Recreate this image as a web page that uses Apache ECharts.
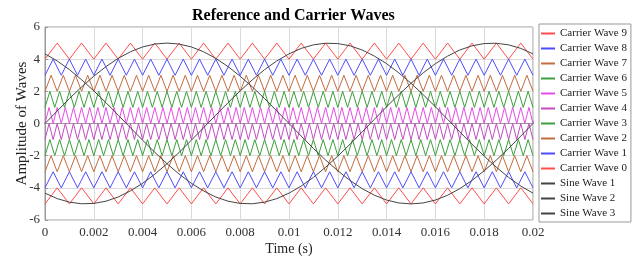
<!DOCTYPE html>
<html>
<head>
<meta charset="utf-8">
<script src="https://cdn.jsdelivr.net/npm/echarts@6/dist/echarts.min.js"></script>
<style>
  html, body { margin: 0; background: #fff; }
  #main { width: 637px; height: 264px; }
</style>
</head>
<body>
<div id="main"></div>
<script>
// time span of the plot (s); every series below is sampled at equal steps over it
const tStart = 0;
const tEnd = 0.02;
const xTicks = [0, 0.002, 0.004, 0.006, 0.008, 0.01, 0.012, 0.014, 0.016, 0.018, 0.02];
const yTicks = [-6, -4, -2, 0, 2, 4, 6];

// carrier waves: vertex values (trough / peak), equally spaced from 0 to 0.02 s
const carrier9 = [
  4,5,4,5,4,5,4,5,4,5, 4,5,4,5,4,5,4,5,4,5,
  4,5,4,5,4,5,4,5,4,5, 4,5,4,5,4,5,4,5,4,5,
  4
];
const carrier8 = [
  3,4,3,4,3,4,3,4,3,4, 3,4,3,4,3,4,3,4,3,4,
  3,4,3,4,3,4,3,4,3,4, 3,4,3,4,3,4,3,4,3,4,
  3,4,3,4,3,4,3,4,3,4, 3,4,3,4,3,4,3,4,3,4,
  3
];
const carrier7 = [
  2,3,2,3,2,3,2,3,2,3, 2,3,2,3,2,3,2,3,2,3,
  2,3,2,3,2,3,2,3,2,3, 2,3,2,3,2,3,2,3,2,3,
  2,3,2,3,2,3,2,3,2,3, 2,3,2,3,2,3,2,3,2,3,
  2,3,2,3,2,3,2,3,2,3, 2,3,2,3,2,3,2,3,2,3,
  2
];
const carrier6 = [
  1,2,1,2,1,2,1,2,1,2, 1,2,1,2,1,2,1,2,1,2,
  1,2,1,2,1,2,1,2,1,2, 1,2,1,2,1,2,1,2,1,2,
  1,2,1,2,1,2,1,2,1,2, 1,2,1,2,1,2,1,2,1,2,
  1,2,1,2,1,2,1,2,1,2, 1,2,1,2,1,2,1,2,1,2,
  1,2,1,2,1,2,1,2,1,2, 1,2,1,2,1,2,1,2,1,2,
  1
];
const carrier5 = [
  0,1,0,1,0,1,0,1,0,1, 0,1,0,1,0,1,0,1,0,1,
  0,1,0,1,0,1,0,1,0,1, 0,1,0,1,0,1,0,1,0,1,
  0,1,0,1,0,1,0,1,0,1, 0,1,0,1,0,1,0,1,0,1,
  0,1,0,1,0,1,0,1,0,1, 0,1,0,1,0,1,0,1,0,1,
  0,1,0,1,0,1,0,1,0,1, 0,1,0,1,0,1,0,1,0,1,
  0,1,0,1,0,1,0,1,0,1, 0,1,0,1,0,1,0,1,0,1,
  0
];
const carrier4 = [
  -1,0,-1,0,-1,0,-1,0,-1,0, -1,0,-1,0,-1,0,-1,0,-1,0,
  -1,0,-1,0,-1,0,-1,0,-1,0, -1,0,-1,0,-1,0,-1,0,-1,0,
  -1,0,-1,0,-1,0,-1,0,-1,0, -1,0,-1,0,-1,0,-1,0,-1,0,
  -1,0,-1,0,-1,0,-1,0,-1,0, -1,0,-1,0,-1,0,-1,0,-1,0,
  -1,0,-1,0,-1,0,-1,0,-1,0, -1,0,-1,0,-1,0,-1,0,-1,0,
  -1,0,-1,0,-1,0,-1,0,-1,0, -1,0,-1,0,-1,0,-1,0,-1,0,
  -1
];
const carrier3 = [
  -2,-1,-2,-1,-2,-1,-2,-1,-2,-1, -2,-1,-2,-1,-2,-1,-2,-1,-2,-1,
  -2,-1,-2,-1,-2,-1,-2,-1,-2,-1, -2,-1,-2,-1,-2,-1,-2,-1,-2,-1,
  -2,-1,-2,-1,-2,-1,-2,-1,-2,-1, -2,-1,-2,-1,-2,-1,-2,-1,-2,-1,
  -2,-1,-2,-1,-2,-1,-2,-1,-2,-1, -2,-1,-2,-1,-2,-1,-2,-1,-2,-1,
  -2,-1,-2,-1,-2,-1,-2,-1,-2,-1, -2,-1,-2,-1,-2,-1,-2,-1,-2,-1,
  -2
];
const carrier2 = [
  -3,-2,-3,-2,-3,-2,-3,-2,-3,-2, -3,-2,-3,-2,-3,-2,-3,-2,-3,-2,
  -3,-2,-3,-2,-3,-2,-3,-2,-3,-2, -3,-2,-3,-2,-3,-2,-3,-2,-3,-2,
  -3,-2,-3,-2,-3,-2,-3,-2,-3,-2, -3,-2,-3,-2,-3,-2,-3,-2,-3,-2,
  -3,-2,-3,-2,-3,-2,-3,-2,-3,-2, -3,-2,-3,-2,-3,-2,-3,-2,-3,-2,
  -3
];
const carrier1 = [
  -4,-3,-4,-3,-4,-3,-4,-3,-4,-3, -4,-3,-4,-3,-4,-3,-4,-3,-4,-3,
  -4,-3,-4,-3,-4,-3,-4,-3,-4,-3, -4,-3,-4,-3,-4,-3,-4,-3,-4,-3,
  -4,-3,-4,-3,-4,-3,-4,-3,-4,-3, -4,-3,-4,-3,-4,-3,-4,-3,-4,-3,
  -4
];
const carrier0 = [
  -5,-4,-5,-4,-5,-4,-5,-4,-5,-4, -5,-4,-5,-4,-5,-4,-5,-4,-5,-4,
  -5,-4,-5,-4,-5,-4,-5,-4,-5,-4, -5,-4,-5,-4,-5,-4,-5,-4,-5,-4,
  -5
];

// reference sine waves, one value every 0.0005 s
const sine1 = [
  0, 0.78, 1.55, 2.27, 2.94, 3.54, 4.05, 4.46, 4.76, 4.94,
  5, 4.94, 4.76, 4.46, 4.05, 3.54, 2.94, 2.27, 1.55, 0.78,
  0, -0.78, -1.55, -2.27, -2.94, -3.54, -4.05, -4.46, -4.76, -4.94,
  -5, -4.94, -4.76, -4.46, -4.05, -3.54, -2.94, -2.27, -1.55, -0.78,
  0
];
const sine2 = [
  -4.33, -4.67, -4.89, -4.99, -4.97, -4.83, -4.57, -4.19, -3.72, -3.15,
  -2.5, -1.79, -1.04, -0.26, 0.52, 1.29, 2.03, 2.72, 3.35, 3.89,
  4.33, 4.67, 4.89, 4.99, 4.97, 4.83, 4.57, 4.19, 3.72, 3.15,
  2.5, 1.79, 1.04, 0.26, -0.52, -1.29, -2.03, -2.72, -3.35, -3.89,
  -4.33
];
const sine3 = [
  4.33, 3.89, 3.35, 2.72, 2.03, 1.29, 0.52, -0.26, -1.04, -1.79,
  -2.5, -3.15, -3.72, -4.19, -4.57, -4.83, -4.97, -4.99, -4.89, -4.67,
  -4.33, -3.89, -3.35, -2.72, -2.03, -1.29, -0.52, 0.26, 1.04, 1.79,
  2.5, 3.15, 3.72, 4.19, 4.57, 4.83, 4.97, 4.99, 4.89, 4.67,
  4.33
];

const seriesNames = [
  "Carrier Wave 9", "Carrier Wave 8", "Carrier Wave 7", "Carrier Wave 6",
  "Carrier Wave 5", "Carrier Wave 4", "Carrier Wave 3", "Carrier Wave 2",
  "Carrier Wave 1", "Carrier Wave 0", "Sine Wave 1", "Sine Wave 2", "Sine Wave 3"
];
const seriesValues = [
  carrier9, carrier8, carrier7, carrier6, carrier5,
  carrier4, carrier3, carrier2, carrier1, carrier0,
  sine1, sine2, sine3
];
const seriesColors = [
  "#ff4d4d", "#4d4dff", "#c26c40", "#3c9f3c", "#e64de6",
  "#c24dc2", "#3c9f3c", "#c26c40", "#4d4dff", "#ff4d4d",
  "#444444", "#444444", "#444444"
];

// pair each value with its sample time
function toPoints(vals) {
  const step = (tEnd - tStart) / (vals.length - 1);
  return vals.map((v, i) => [tStart + i * step, v]);
}

const font = "'Liberation Serif', 'Times New Roman', serif";
const myChart = echarts.init(document.getElementById("main"));

let option = {
  animation: false,
  backgroundColor: "#fff",
  title: {
    text: "Reference and Carrier Waves",
    left: 187,
    top: 3,
    textStyle: { fontFamily: font, fontSize: 16, fontWeight: "bold", color: "#000" },
  },
  legend: {
    orient: "vertical",
    left: 539,
    top: 24,
    padding: [4, 4, 3, 2],
    itemWidth: 14,
    itemHeight: 2,
    itemGap: 4,
    icon: "rect",
    borderColor: "#999",
    borderWidth: 1,
    backgroundColor: "#fff",
    data: seriesNames,
    textStyle: { fontFamily: font, fontSize: 11, color: "#222" },
  },
  grid: {
    left: 45,
    right: 104,
    top: 27,
    bottom: 44,
    outerBoundsMode: "none",
    show: true,
    borderColor: "#999",
    borderWidth: 1,
  },
  xAxis: {
    type: "value",
    min: xTicks[0],
    max: xTicks[xTicks.length - 1],
    interval: 0.002,
    name: "Time (s)",
    nameLocation: "middle",
    nameGap: 22,
    nameMoveOverlap: false,
    nameTextStyle: { fontFamily: font, fontSize: 14, color: "#222" },
    axisLine: { lineStyle: { color: "#999" } },
    axisTick: { inside: true, length: 3, lineStyle: { color: "#999" } },
    axisLabel: {
      fontFamily: font,
      fontSize: 13,
      color: "#333",
      margin: 6,
      formatter: (v) => String(parseFloat(v.toFixed(4))),
    },
    splitLine: { lineStyle: { color: "#dadada" } },
  },
  yAxis: {
    type: "value",
    min: yTicks[0],
    max: yTicks[yTicks.length - 1],
    interval: 2,
    name: "Amplitude of Waves",
    nameLocation: "middle",
    nameGap: 15,
    nameMoveOverlap: false,
    nameTextStyle: { fontFamily: font, fontSize: 15, color: "#222" },
    axisLine: { lineStyle: { color: "#999" } },
    axisTick: { inside: true, length: 3, lineStyle: { color: "#999" } },
    axisLabel: { fontFamily: font, fontSize: 13, color: "#333", margin: 5 },
    splitLine: { lineStyle: { color: "#dadada" } },
  },
  series: seriesNames.map((name, i) => ({
    name: name,
    type: "line",
    showSymbol: false,
    symbol: "none",
    color: seriesColors[i],
    lineStyle: { width: 1, color: seriesColors[i] },
    data: toPoints(seriesValues[i]),
  })),
};

option && myChart.setOption(option);
</script>
</body>
</html>
